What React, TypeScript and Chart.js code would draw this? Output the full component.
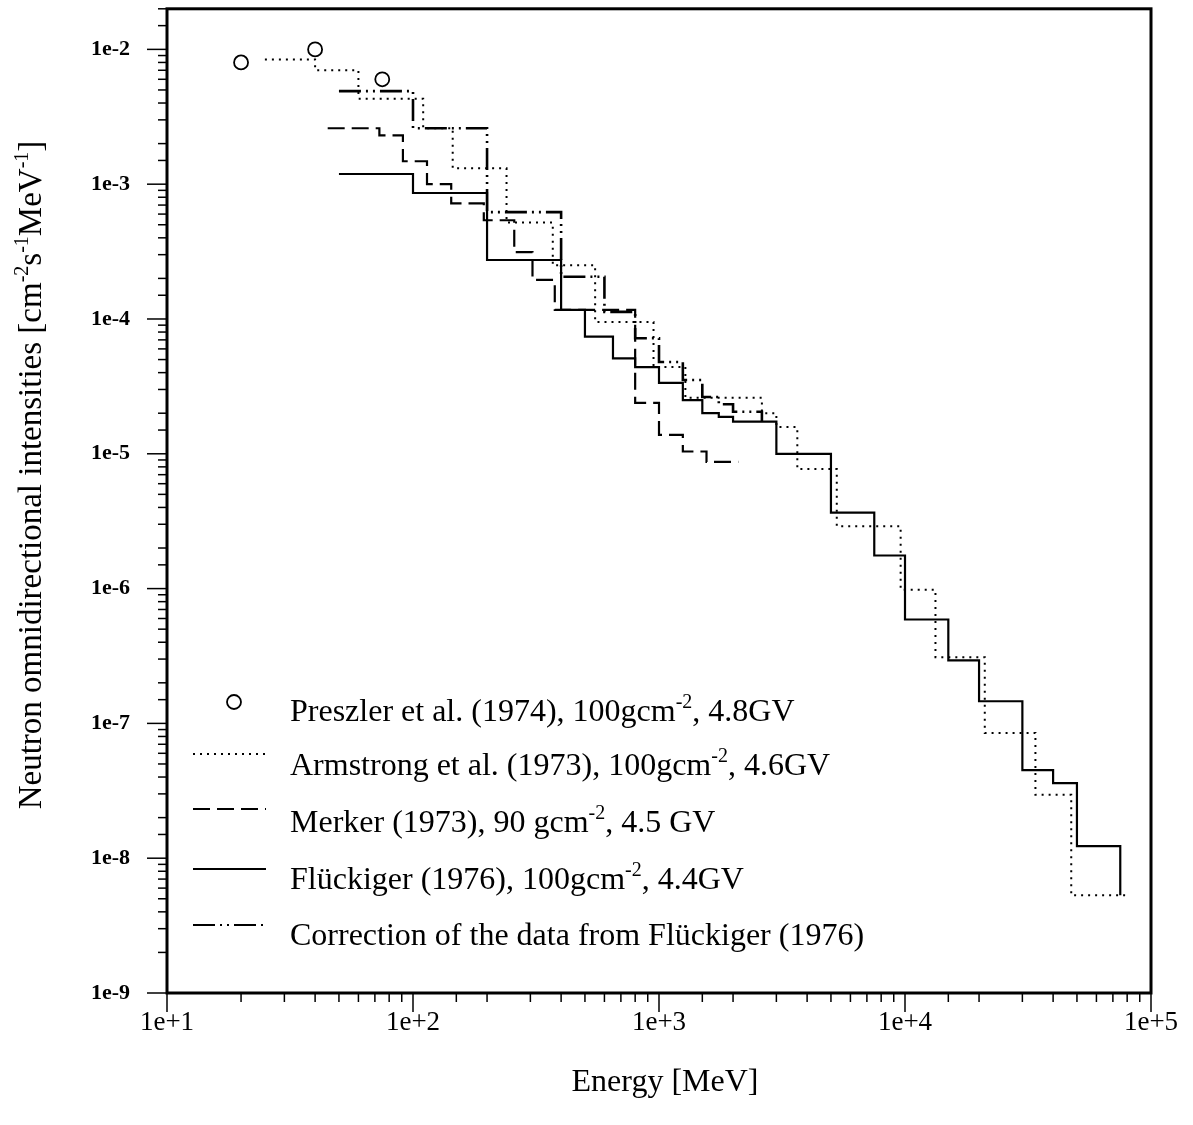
import React, { useEffect, useRef } from "react";
import { Chart, registerables } from "chart.js";

Chart.register(...registerables);

// ---------- data (energy in MeV, intensity in cm^-2 s^-1 MeV^-1) ----------
const preszlerEnergy = [20, 40, 75];
const preszlerIntensity = [8.0e-3, 1.0e-2, 6.0e-3];

// bin edges (n+1) and bin values (n)
const armstrongEdges = [25, 40, 60, 110, 145, 240, 370, 550, 950, 1280, 2620, 3000, 3650, 5280, 9600, 13300, 21100, 33900, 47400, 78500];
const armstrongIntensity = [8.4e-3, 7.0e-3, 4.3e-3, 2.6e-3, 1.31e-3, 5.2e-4, 2.5e-4, 9.5e-5, 4.4e-5, 2.6e-5, 2.0e-5, 1.58e-5, 7.7e-6, 2.9e-6, 9.8e-7, 3.1e-7, 8.5e-8, 2.95e-8, 5.3e-9];

const merkerEdges = [45, 73, 91, 114, 143, 194, 258, 306, 377, 800, 1000, 1250, 1560, 2100];
const merkerIntensity = [2.6e-3, 2.3e-3, 1.48e-3, 1.0e-3, 7.2e-4, 5.4e-4, 3.13e-4, 1.95e-4, 1.17e-4, 2.39e-5, 1.38e-5, 1.04e-5, 8.7e-6];

const flueckigerEdges = [50, 100, 200, 400, 500, 650, 800, 1000, 1250, 1500, 1750, 2000, 3000, 5000, 7500, 10000, 15000, 20000, 30000, 40000, 50000, 75000];
const flueckigerIntensity = [1.19e-3, 8.6e-4, 2.74e-4, 1.17e-4, 7.4e-5, 5.1e-5, 4.4e-5, 3.36e-5, 2.5e-5, 2.0e-5, 1.88e-5, 1.73e-5, 1.0e-5, 3.66e-6, 1.76e-6, 5.9e-7, 2.93e-7, 1.46e-7, 4.5e-8, 3.6e-8, 1.23e-8];
const flueckigerEndIntensity = 5.3e-9;

const correctionEdges = [50, 100, 200, 400, 600, 800, 1000, 1250, 1500, 1750, 2000, 2620];
const correctionIntensity = [4.9e-3, 2.6e-3, 6.2e-4, 2.06e-4, 1.13e-4, 7.2e-5, 4.8e-5, 3.53e-5, 2.64e-5, 2.33e-5, 2.05e-5];
const correctionEndIntensity = 1.73e-5;

const xRange = [10, 1e5];
const yRange = [1e-9, 2e-2];

const xTitle = "Energy [MeV]";
const yTitleParts: [string, boolean][] = [
  ["Neutron omnidirectional intensities [cm", false],
  ["-2", true],
  ["s", false],
  ["-1", true],
  ["MeV", false],
  ["-1", true],
  ["]", false],
];

const legendEntries: { kind: string; parts: [string, boolean][] }[] = [
  { kind: "circle", parts: [["Preszler et al. (1974), 100gcm", false], ["-2", true], [", 4.8GV", false]] },
  { kind: "dotted", parts: [["Armstrong et al. (1973), 100gcm", false], ["-2", true], [", 4.6GV", false]] },
  { kind: "dashed", parts: [["Merker (1973), 90 gcm", false], ["-2", true], [", 4.5 GV", false]] },
  { kind: "solid", parts: [["Flückiger (1976), 100gcm", false], ["-2", true], [", 4.4GV", false]] },
  { kind: "dashdot", parts: [["Correction of the data from Flückiger (1976)", false]] },
];

// ---------- styles ----------
const DOTTED = [2, 5];
const DASHED = [17, 7];
const DASHDOT = [22, 5, 2, 5, 2, 5];
const SERIF = "'Liberation Serif', 'Times New Roman', serif";

function stepPoints(edges: number[], values: number[], endValue?: number) {
  const pts = values.map((v, i) => ({ x: edges[i], y: v }));
  pts.push({ x: edges[edges.length - 1], y: endValue ?? values[values.length - 1] });
  return pts;
}

function isDecade(v: number) {
  const l = Math.log10(v);
  return Math.abs(l - Math.round(l)) < 1e-6;
}

function decadeLabel(v: number) {
  if (!isDecade(v)) return "";
  const r = Math.round(Math.log10(v));
  return "1e" + (r >= 0 ? "+" : "-") + Math.abs(r);
}

function drawRich(ctx: CanvasRenderingContext2D, parts: [string, boolean][], x: number, y: number, size: number, supSize: number, supRise: number) {
  let cx = x;
  for (const [t, sup] of parts) {
    ctx.font = `${sup ? supSize : size}px ${SERIF}`;
    ctx.fillText(t, cx, sup ? y - supRise : y);
    cx += ctx.measureText(t).width;
  }
  return cx - x;
}

function richWidth(ctx: CanvasRenderingContext2D, parts: [string, boolean][], size: number, supSize: number) {
  let w = 0;
  for (const [t, sup] of parts) {
    ctx.font = `${sup ? supSize : size}px ${SERIF}`;
    w += ctx.measureText(t).width;
  }
  return w;
}

const decorPlugin = {
  id: "decor",
  afterDraw(chart: any) {
    const ctx: CanvasRenderingContext2D = chart.ctx;
    const { left, right, top, bottom } = chart.chartArea;
    const xs = chart.scales.x;
    const ys = chart.scales.y;
    ctx.save();
    ctx.strokeStyle = "#000";
    ctx.fillStyle = "#000";
    ctx.setLineDash([]);
    ctx.lineWidth = 1.5;
    for (const t of ys.ticks) {
      const p = ys.getPixelForValue(t.value);
      const len = isDecade(t.value) ? 20 : 9;
      ctx.beginPath();
      ctx.moveTo(left - len, p);
      ctx.lineTo(left, p);
      ctx.stroke();
    }
    for (const t of xs.ticks) {
      const p = xs.getPixelForValue(t.value);
      const len = isDecade(t.value) ? 19 : 9;
      ctx.beginPath();
      ctx.moveTo(p, bottom);
      ctx.lineTo(p, bottom + len);
      ctx.stroke();
    }
    ctx.lineWidth = 3;
    ctx.strokeRect(left, top, right - left, bottom - top);

    // x title
    ctx.font = `32px ${SERIF}`;
    ctx.textAlign = "center";
    ctx.textBaseline = "middle";
    ctx.fillText(xTitle, 665, 1083);

    // y title (rotated)
    ctx.textAlign = "left";
    ctx.textBaseline = "alphabetic";
    ctx.save();
    ctx.translate(31, 475);
    ctx.rotate(-Math.PI / 2);
    const tw = richWidth(ctx, yTitleParts, 33, 20);
    drawRich(ctx, yTitleParts, -tw / 2, 10, 33, 20, 13);
    ctx.restore();

    // legend
    const textY = [711, 765, 822, 879, 935];
    const symY = [702, 754, 809, 869, 925];
    legendEntries.forEach((e, i) => {
      const sy = symY[i];
      ctx.lineWidth = 2;
      if (e.kind === "circle") {
        ctx.setLineDash([]);
        ctx.beginPath();
        ctx.arc(234, sy, 7, 0, Math.PI * 2);
        ctx.fillStyle = "#fff";
        ctx.fill();
        ctx.lineWidth = 1.8;
        ctx.stroke();
        ctx.fillStyle = "#000";
      } else {
        const dash = e.kind === "dotted" ? DOTTED : e.kind === "dashed" ? DASHED : e.kind === "dashdot" ? DASHDOT : [];
        ctx.setLineDash(dash);
        ctx.beginPath();
        ctx.moveTo(193, sy);
        ctx.lineTo(266, sy);
        ctx.stroke();
        ctx.setLineDash([]);
      }
      drawRich(ctx, e.parts, 290, textY[i] + 10, 32, 20, 13);
    });
    ctx.restore();
  },
};

export default function App() {
  const ref = useRef<HTMLCanvasElement | null>(null);
  useEffect(() => {
    if (!ref.current) return;
    const lineBase = { pointRadius: 0, stepped: "before" as const, fill: false, borderColor: "#000", borderCapStyle: "butt" as const };
    const chart = new Chart(ref.current, {
      type: "line",
      data: {
        datasets: [
          {
            label: "Armstrong et al. (1973)",
            data: stepPoints(armstrongEdges, armstrongIntensity),
            ...lineBase,
            borderWidth: 2,
            borderDash: DOTTED,
          },
          {
            label: "Merker (1973)",
            data: stepPoints(merkerEdges, merkerIntensity),
            ...lineBase,
            borderWidth: 2.2,
            borderDash: DASHED,
          },
          {
            label: "Flückiger (1976)",
            data: stepPoints(flueckigerEdges, flueckigerIntensity, flueckigerEndIntensity),
            ...lineBase,
            borderWidth: 2.2,
          },
          {
            label: "Correction of the data from Flückiger (1976)",
            data: stepPoints(correctionEdges, correctionIntensity, correctionEndIntensity),
            ...lineBase,
            borderWidth: 2.6,
            borderDash: DASHDOT,
          },
          {
            label: "Preszler et al. (1974)",
            data: preszlerEnergy.map((e, i) => ({ x: e, y: preszlerIntensity[i] })),
            showLine: false,
            pointStyle: "circle",
            pointRadius: 7,
            pointBorderWidth: 1.8,
            pointBorderColor: "#000",
            pointBackgroundColor: "#fff",
            borderColor: "#000",
            backgroundColor: "#fff",
          },
        ],
      },
      options: {
        animation: false,
        responsive: false,
        events: [],
        layout: { padding: { left: 0, top: 8, right: 42, bottom: 0 } },
        plugins: { legend: { display: false }, tooltip: { enabled: false }, title: { display: false } },
        scales: {
          x: {
            type: "logarithmic",
            min: xRange[0],
            max: xRange[1],
            border: { display: false },
            grid: { display: false, drawTicks: false },
            ticks: {
              autoSkip: false,
              maxRotation: 0,
              minRotation: 0,
              padding: 14,
              color: "#000",
              font: { family: SERIF, size: 27 },
              callback: (v: any) => decadeLabel(Number(v)),
            },
            afterFit: (s: any) => {
              s.height = 132;
              s.paddingLeft = 0;
              s.paddingRight = 0;
            },
          },
          y: {
            type: "logarithmic",
            min: yRange[0],
            max: yRange[1],
            border: { display: false },
            grid: { display: false, drawTicks: false },
            ticks: {
              autoSkip: false,
              padding: 37,
              color: "#000",
              font: { family: SERIF, size: 22, weight: "bold" },
              callback: (v: any) => decadeLabel(Number(v)),
            },
            afterFit: (s: any) => {
              s.width = 167;
              s.paddingTop = 0;
              s.paddingBottom = 0;
            },
          },
        },
      },
      plugins: [decorPlugin],
    });
    return () => chart.destroy();
  }, []);
  return (
    <div style={{ position: "absolute", left: 0, top: 0, width: 1193, height: 1125, background: "#fff" }}>
      <canvas ref={ref} width={1193} height={1125} style={{ width: 1193, height: 1125, display: "block" }} />
    </div>
  );
}
